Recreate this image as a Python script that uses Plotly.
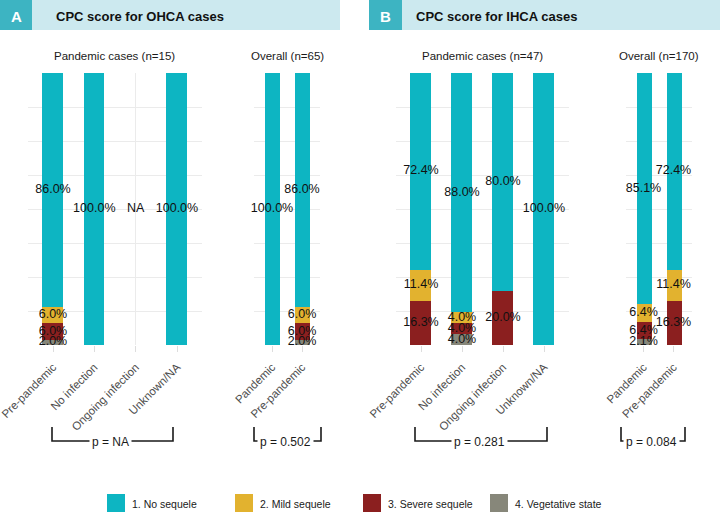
import plotly.graph_objects as go

# ---------------- data ----------------
levels = ["1. No sequele", "2. Mild sequele", "3. Severe sequele", "4. Vegetative state"]
level_colors = ["#0DB5C2", "#E2B22F", "#8B1F1F", "#87877A"]

ohca_pandemic_groups = ["Pre-pandemic", "No infection", "Ongoing infection", "Unknown/NA"]
ohca_pandemic_no = [86.0, 100.0, None, 100.0]
ohca_pandemic_mild = [6.0, 0.0, None, 0.0]
ohca_pandemic_severe = [6.0, 0.0, None, 0.0]
ohca_pandemic_veg = [2.0, 0.0, None, 0.0]

ohca_overall_groups = ["Pandemic", "Pre-pandemic"]
ohca_overall_no = [100.0, 86.0]
ohca_overall_mild = [0.0, 6.0]
ohca_overall_severe = [0.0, 6.0]
ohca_overall_veg = [0.0, 2.0]

ihca_pandemic_groups = ["Pre-pandemic", "No infection", "Ongoing infection", "Unknown/NA"]
ihca_pandemic_no = [72.4, 88.0, 80.0, 100.0]
ihca_pandemic_mild = [11.4, 4.0, 0.0, 0.0]
ihca_pandemic_severe = [16.3, 4.0, 20.0, 0.0]
ihca_pandemic_veg = [0.0, 4.0, 0.0, 0.0]

ihca_overall_groups = ["Pandemic", "Pre-pandemic"]
ihca_overall_no = [85.1, 72.4]
ihca_overall_mild = [6.4, 11.4]
ihca_overall_severe = [6.4, 16.3]
ihca_overall_veg = [2.1, 0.0]

panel_titles = ["Pandemic cases (n=15)", "Overall (n=65)", "Pandemic cases (n=47)", "Overall (n=170)"]
p_values = ["p = NA", "p = 0.502", "p = 0.281", "p = 0.084"]
section_letters = ["A", "B"]
section_titles = ["CPC score for OHCA cases", "CPC score for IHCA cases"]

# ---------------- layout helpers ----------------
W, H = 720, 513
def px(x):
    return x / W
def py(y):
    return 1 - y / H

FONT = "Liberation Sans, Arial, Helvetica, sans-serif"
GRID = "#EBEBEB"

panels = [
    dict(groups=ohca_pandemic_groups,
         series=[ohca_pandemic_no, ohca_pandemic_mild, ohca_pandemic_severe, ohca_pandemic_veg],
         dom=(28.2, 201.8), bracket=(52, 173)),
    dict(groups=ohca_overall_groups,
         series=[ohca_overall_no, ohca_overall_mild, ohca_overall_severe, ohca_overall_veg],
         dom=(254, 320), bracket=(254, 321)),
    dict(groups=ihca_pandemic_groups,
         series=[ihca_pandemic_no, ihca_pandemic_mild, ihca_pandemic_severe, ihca_pandemic_veg],
         dom=(396.4, 568.6), bracket=(415, 547)),
    dict(groups=ihca_overall_groups,
         series=[ihca_overall_no, ihca_overall_mild, ihca_overall_severe, ihca_overall_veg],
         dom=(625.5, 691.5), bracket=(621, 685)),
]

PLOT_TOP, PLOT_BOTTOM = 73, 345

fig = go.Figure()
layout_axes = {}
shapes = []
annotations = []

for i, p in enumerate(panels):
    n = i + 1
    xa = "x" if n == 1 else f"x{n}"
    ya = "y" if n == 1 else f"y{n}"
    groups = p["groups"]
    series = p["series"]
    # stack from bottom: vegetative, severe, mild, no sequele
    order = [3, 2, 1, 0]
    for k in order:
        fig.add_trace(go.Bar(
            x=groups, y=[v if v is not None else 0 for v in series[k]],
            width=0.5, marker=dict(color=level_colors[k], line=dict(width=0)),
            name=levels[k], showlegend=False, xaxis=xa, yaxis=ya,
            hoverinfo="skip"))
    # labels at stack middles
    lx, ly, lt = [], [], []
    for gi, g in enumerate(groups):
        vals = [series[k][gi] for k in range(4)]
        if all(v is None for v in vals):
            lx.append(g); ly.append(50); lt.append("NA")
            continue
        cum = 0.0
        for k in order:
            v = series[k][gi]
            if v and v > 0:
                lx.append(g); ly.append(cum + v / 2); lt.append(f"{v:.1f}%")
                cum += v
    fig.add_trace(go.Scatter(
        x=lx, y=ly, text=lt, mode="text", textposition="middle center",
        textfont=dict(family=FONT, size=12.5, color="#111111"),
        showlegend=False, xaxis=xa, yaxis=ya, cliponaxis=False, hoverinfo="skip"))

    l, r = p["dom"]
    key = "" if n == 1 else str(n)
    layout_axes["xaxis" + key] = dict(
        domain=[px(l), px(r)], anchor=ya, type="category",
        categoryorder="array", categoryarray=groups,
        range=[-0.6, len(groups) - 0.4], automargin=False,
        showgrid=True, gridcolor=GRID, gridwidth=1,
        ticks="outside", ticklen=6, tickcolor="#DDDDDD", tickwidth=1,
        ticklabelstandoff=4,
        tickangle=-45, tickfont=dict(family=FONT, size=11.5, color="#4D4D4D"),
        showline=False, zeroline=False, fixedrange=True)
    layout_axes["yaxis" + key] = dict(
        domain=[py(PLOT_BOTTOM), py(PLOT_TOP)], anchor=xa,
        range=[0, 100], tick0=0, dtick=12.5, automargin=False,
        showticklabels=False, ticks="",
        showgrid=True, gridcolor=GRID, gridwidth=1,
        showline=False, zeroline=False, fixedrange=True)

    # facet title
    annotations.append(dict(
        x=px((l + r) / 2), y=py(56), xref="paper", yref="paper",
        text=panel_titles[i], showarrow=False,
        font=dict(family=FONT, size=11.5, color="#1A1A1A"),
        xanchor="center", yanchor="middle"))

    # p-value bracket
    bl, br = p["bracket"]
    shapes.append(dict(
        type="path", xref="paper", yref="paper",
        path=f"M {px(bl)},{py(427)} L {px(bl)},{py(441)} L {px(br)},{py(441)} L {px(br)},{py(427)}",
        line=dict(color="#1A1A1A", width=1.6)))
    annotations.append(dict(
        x=px((bl + br) / 2 - 2), y=py(441.5), xref="paper", yref="paper",
        text=p_values[i], showarrow=False, bgcolor="white", borderpad=2,
        font=dict(family=FONT, size=12, color="#1A1A1A"),
        xanchor="center", yanchor="middle"))

# section headers
headers = [dict(band=(0, 340), box=(0, 32), title_x=54),
           dict(band=(369, 720), box=(369, 402), title_x=414)]
for h, letter, title in zip(headers, section_letters, section_titles):
    shapes.append(dict(type="rect", xref="paper", yref="paper",
                       x0=px(h["band"][0]), x1=px(h["band"][1]), y0=py(30), y1=py(0),
                       fillcolor="#CCE9EF", line=dict(width=0), layer="below"))
    shapes.append(dict(type="rect", xref="paper", yref="paper",
                       x0=px(h["box"][0]), x1=px(h["box"][1]), y0=py(30), y1=py(0),
                       fillcolor="#3DB4C2", line=dict(width=0), layer="below"))
    annotations.append(dict(x=px((h["box"][0] + h["box"][1]) / 2), y=py(16),
                            xref="paper", yref="paper", text=f"<b>{letter}</b>",
                            showarrow=False, xanchor="center", yanchor="middle",
                            font=dict(family=FONT, size=15, color="white")))
    annotations.append(dict(x=px(h["title_x"]), y=py(16),
                            xref="paper", yref="paper", text=f"<b>{title}</b>",
                            showarrow=False, xanchor="left", yanchor="middle",
                            font=dict(family=FONT, size=13, color="#111111")))

# legend (manual keys)
legend_key_x = [107, 235, 363, 490]
for lab, col, kx in zip(levels, level_colors, legend_key_x):
    shapes.append(dict(type="rect", xref="paper", yref="paper",
                       x0=px(kx), x1=px(kx + 18), y0=py(512), y1=py(494),
                       fillcolor=col, line=dict(width=0)))
    annotations.append(dict(x=px(kx + 23), y=py(504), xref="paper", yref="paper",
                            text=lab, showarrow=False, xanchor="left", yanchor="middle",
                            font=dict(family=FONT, size=10.5, color="#1A1A1A")))

fig.update_layout(
    width=W, height=H, margin=dict(l=0, r=0, t=0, b=0, pad=0, autoexpand=False),
    barmode="stack", bargap=0,
    paper_bgcolor="white", plot_bgcolor="white",
    showlegend=False, shapes=shapes, annotations=annotations,
    font=dict(family=FONT),
    **layout_axes)

fig.write_html("out.html", config={"displayModeBar": False},
               post_script="document.body.style.margin='0';document.body.style.overflow='hidden';")
